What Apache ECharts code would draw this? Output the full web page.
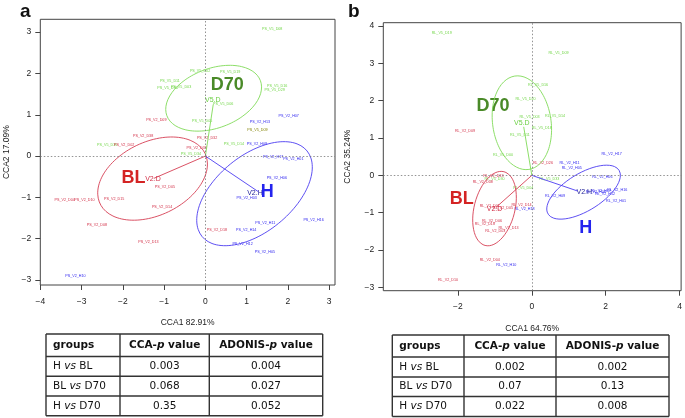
<!DOCTYPE html>
<html><head><meta charset="utf-8">
<script src="https://cdn.jsdelivr.net/npm/echarts@6/dist/echarts.min.js"></script>
<style>html,body{margin:0;padding:0;background:#fff}#c{width:685px;height:418px}</style>
</head><body><div id="c"></div>
<script>
// ---------- Panel a: sample scores ----------
const aNames = ['PS_V5_D08','PS_V5_D02','PS_V5_D19','PS_V5_D11','PS_V5_D30','PS_V5_D03','PS_V5_D16','PS_V5_D29','PS_V5_D06','PS_V5_D05','PS_V5_D14','PS_V5_D35','PS_V5_D34','PS_V5_D09',
 'PS_V2_D09','PS_V2_D38','PS_V2_D32','PS_V2_D02','PS_V2_D33','PS_V2_D05','PS_V2_D04','PS_V2_D10','PS_V2_D15','PS_V2_D14','PS_V2_D08','PS_V2_D18','PS_V2_D13',
 'PS_V2_H07','PS_V2_H13','PS_V2_H09','PS_V2_H17','PS_V2_H01','PS_V2_H06','PS_V2_H03','PS_V2_H16','PS_V2_H11','PS_V2_H14','PS_V2_H12','PS_V2_H05','PS_V2_H10'];
const aX = [1.62,-0.13,0.60,-0.86,-0.92,-0.59,1.74,1.68,0.43,-0.08,0.69,-2.38,-0.35,1.26,
 -1.19,-1.51,0.04,-1.97,-0.21,-0.98,-3.41,-2.93,-2.21,-1.05,-2.63,0.28,-1.38,
 2.02,1.32,1.25,1.64,2.13,1.73,1.00,2.62,1.45,0.99,0.90,1.44,-3.15];
const aY = [3.07,2.05,2.03,1.81,1.65,1.68,1.69,1.61,1.27,0.85,0.30,0.27,0.04,0.63,
 0.87,0.49,0.44,0.27,0.20,-0.75,-1.07,-1.07,-1.04,-1.24,-1.66,-1.78,-2.07,
 0.98,0.83,0.30,-0.02,-0.08,-0.53,-1.01,-1.54,-1.61,-1.79,-2.13,-2.31,-2.91];
const aGrp = [0,0,0,0,0,0,0,0,0,0,0,0,0,3, 1,1,1,1,1,1,1,1,1,1,1,1,1, 2,2,2,2,2,2,2,2,2,2,2,2,2];

// panel a: groups, centroids, ellipses
const aGroupLab = ['D70','BL','H'];
const aGroupX = [0.53,-1.74,1.50];
const aGroupY = [1.72,-0.53,-0.88];
const aCentLab = ['V5.D','V2.D','V2.H'];
const aCentX = [0.18,-1.27,1.20];
const aCentY = [1.36,-0.56,-0.89];
const aArrowX = [0.19,-1.25,1.28];
const aArrowY = [1.25,-0.54,-0.86];
const aEllCX = [0.20,-1.28,1.19];
const aEllCY = [1.40,-0.545,-0.91];
const aEllA = [1.21,1.41,1.64];
const aEllB = [0.72,0.89,0.925];
const aEllAng = [20.5,25.5,39.1];

// ---------- Panel b: sample scores ----------
const bNames = ['RL_V5_D19','RL_V5_D09','RL_V5_D16','RL_V5_D20','RL_V5_D03','RL_V5_D14','RL_V5_D18','RL_V5_D11','RL_V5_D00','RL_V5_D33','RL_V5_D30','RL_V5_D04',
 'RL_V2_D09','RL_V2_D26','RL_V2_D33','RL_V2_D08','RL_V2_D01','RL_V2_D05','RL_V2_D14','RL_V2_D06','RL_V2_D18','RL_V2_D13','RL_V2_D03','RL_V2_D04','RL_V2_D10',
 'RL_V2_H17','RL_V2_H11','RL_V2_H05','RL_V2_H06','RL_V2_H09','RL_V2_H03','RL_V2_H07','RL_V2_H16','RL_V2_H12','RL_V2_H01','RL_V2_H18','RL_V2_H10'];
const bX = [-2.44,0.72,0.17,-0.17,-0.06,0.63,0.27,-0.32,-0.78,0.47,-1.01,-0.23,
 -1.81,0.30,-1.04,-1.33,-1.14,-0.78,-0.28,-1.08,-1.27,-0.63,-0.99,-1.14,-2.27,
 2.16,1.02,1.08,1.91,0.63,1.73,1.87,2.31,1.98,2.28,-0.20,-0.69];
const bY = [3.81,3.29,2.43,2.04,1.57,1.58,1.26,1.08,0.54,-0.09,-0.11,-0.35,
 1.20,0.34,-0.02,-0.19,-0.83,-0.88,-0.80,-1.22,-1.31,-1.40,-1.49,-2.27,-2.80,
 0.56,0.32,0.20,-0.04,-0.55,-0.44,-0.42,-0.40,-0.51,-0.69,-0.89,-2.41];
const bGrp = [0,0,0,0,0,0,0,0,0,0,0,0, 1,1,1,1,1,1,1,1,1,1,1,1,1, 2,2,2,2,2,2,2,2,2,2,2,2];

const bGroupLab = ['D70','BL','H'];
const bGroupX = [-1.05,-1.90,1.46];
const bGroupY = [1.87,-0.64,-1.40];
const bCentLab = ['V5.D','V2.D','V2.H'];
const bCentX = [-0.27,-1.01,1.42];
const bCentY = [1.39,-0.91,-0.45];
const bArrowX = [-0.22,-0.96,1.24];
const bArrowY = [1.30,-0.85,-0.42];
const bEllCX = [-0.27,-1.01,1.40];
const bEllCY = [1.41,-0.89,-0.45];
const bEllA = [1.265,1.02,1.125];
const bEllB = [0.79,0.55,0.50];
const bEllAng = [98.7,75.5,31.2];

// ---------- axes ----------
const aXTicks = [-4,-3,-2,-1,0,1,2,3];
const aYTicks = [-3,-2,-1,0,1,2,3];
const bXTicks = [-2,0,2,4];
const bYTicks = [-3,-2,-1,0,1,2,3,4];
const aXTitle = 'CCA1 82.91%', aYTitle = 'CCA2 17.09%';
const bXTitle = 'CCA1 64.76%', bYTitle = 'CCA2 35.24%';

// ---------- tables ----------
const tHeader = ['groups','CCA-','p',' value','ADONIS-','p',' value'];
const tCompA = [['H','BL'],['BL','D70'],['H','D70']];
const tCcaA = ['0.003','0.068','0.35'];
const tAdoA = ['0.004','0.027','0.052'];
const tCcaB = ['0.002','0.07','0.022'];
const tAdoB = ['0.002','0.13','0.008'];

// ---------- styling ----------
const labelCol = ['#72D648','#D22E46','#2E24F0','#808000'];
const groupCol = ['#4A8A28','#D42424','#2424EE'];
const centCol = ['#6CD044','#D22E46','#1A1A96'];
const ellCol = ['#80DA58','#D63E54','#4C3CF0'];
const FONT = 'Liberation Sans, Arial, sans-serif';

function ellipse(cx, cy, a, b, deg) {
  const t = deg * Math.PI / 180, pts = [];
  for (let i = 0; i <= 120; i++) {
    const u = i / 120 * 2 * Math.PI;
    const ex = a * Math.cos(u), ey = b * Math.sin(u);
    pts.push([cx + ex * Math.cos(t) - ey * Math.sin(t), cy + ex * Math.sin(t) + ey * Math.cos(t)]);
  }
  return pts;
}
const fmt = v => v < 0 ? '\u2212' + Math.abs(v) : String(v);

function axes(idx, xr, yr, xt, yt, xTitle, yTitle, xGap, yGap, xMargin) {
  const common = {
    gridIndex: idx, type: 'value', splitLine: {show: false},
    axisLine: {show: false, onZero: false},
    axisTick: {show: true, length: 5, lineStyle: {color: '#444', width: 1}},
    nameTextStyle: {fontSize: 8.5, color: '#222', fontFamily: FONT},
    nameLocation: 'middle'
  };
  const x = Object.assign({}, common, {min: xr[0], max: xr[1], name: xTitle, nameGap: xGap,
    axisTick: Object.assign({}, common.axisTick, {customValues: xt}),
    axisLabel: {customValues: xt, formatter: fmt, fontSize: 8.5, color: '#222', fontFamily: FONT, margin: xMargin}});
  const y = Object.assign({}, common, {min: yr[0], max: yr[1], name: yTitle, nameGap: yGap,
    axisTick: Object.assign({}, common.axisTick, {customValues: yt}),
    axisLabel: {customValues: yt, formatter: fmt, fontSize: 8.5, color: '#222', fontFamily: FONT, margin: 9}});
  return [x, y];
}

const hidden = {color: 'rgba(0,0,0,0)', opacity: 1};

function panelSeries(idx, names, xs, ys, grp, gl, gx, gy, cl, cx, cy, ax, ay, ecx, ecy, ea, eb, eang) {
  const s = [];
  // dotted zero lines
  s.push({type: 'scatter', xAxisIndex: idx, yAxisIndex: idx, data: [], silent: true,
    markLine: {silent: true, symbol: ['none','none'], label: {show: false},
      lineStyle: {type: [1.5, 2], color: '#777', width: 0.8},
      data: [{xAxis: 0}, {yAxis: 0}]}});
  // ellipses
  for (let k = 0; k < 3; k++) {
    s.push({type: 'line', xAxisIndex: idx, yAxisIndex: idx, showSymbol: false, silent: true,
      data: ellipse(ecx[k], ecy[k], ea[k], eb[k], eang[k]),
      lineStyle: {color: ellCol[k], width: 0.9}});
  }
  // arrows from origin to centroid
  for (let k = 0; k < 3; k++) {
    s.push({type: 'line', xAxisIndex: idx, yAxisIndex: idx, showSymbol: false, silent: true,
      data: [[0, 0], [ax[k], ay[k]]], lineStyle: {color: ellCol[k], width: 0.9}});
  }
  // sample name labels
  s.push({type: 'scatter', xAxisIndex: idx, yAxisIndex: idx, symbolSize: 0.1, silent: true,
    itemStyle: hidden,
    data: names.map((n, i) => ({name: n, value: [xs[i], ys[i]],
      label: {color: labelCol[grp[i]]}})),
    label: {show: true, position: 'inside', formatter: '{b}', fontSize: 3.7, fontFamily: FONT}});
  // centroid labels
  s.push({type: 'scatter', xAxisIndex: idx, yAxisIndex: idx, symbolSize: 0.1, silent: true,
    itemStyle: hidden,
    data: cl.map((n, i) => ({name: n, value: [cx[i], cy[i]], label: {color: centCol[i]}})),
    label: {show: true, position: 'inside', formatter: '{b}', fontSize: 7, fontFamily: FONT}});
  // group labels
  s.push({type: 'scatter', xAxisIndex: idx, yAxisIndex: idx, symbolSize: 0.1, silent: true,
    itemStyle: hidden,
    data: gl.map((n, i) => ({name: n, value: [gx[i], gy[i]], label: {color: groupCol[i]}})),
    label: {show: true, position: 'inside', formatter: '{b}', fontSize: 18, fontWeight: 'bold', fontFamily: FONT}});
  return s;
}

function table(cols, rows, comps, cca, ado) {
  const els = [];
  const TF = 'DejaVu Sans, sans-serif';
  const lc = '#333';
  rows.forEach(r => els.push({type: 'line', shape: {x1: cols[0], y1: r, x2: cols[3], y2: r}, style: {stroke: lc, lineWidth: 1.4}, silent: true}));
  cols.forEach(c => els.push({type: 'line', shape: {x1: c, y1: rows[0], x2: c, y2: rows[4]}, style: {stroke: lc, lineWidth: 1.4}, silent: true}));
  const rich = {
    n: {fontSize: 10.5, fontFamily: TF, fill: '#111'},
    i: {fontSize: 10.5, fontFamily: TF, fontStyle: 'italic', fill: '#111'},
    hb: {fontSize: 10.5, fontFamily: TF, fontWeight: 'bold', fill: '#111'},
    hi: {fontSize: 10.5, fontFamily: TF, fontWeight: 'bold', fontStyle: 'italic', fill: '#111'}
  };
  const cy = k => (rows[k] + rows[k + 1]) / 2;
  const txt = (x, y, s, align) => els.push({type: 'text', x: x, y: y, silent: true,
    style: {text: s, rich: rich, align: align, verticalAlign: 'middle'}});
  txt(cols[0] + 7, cy(0), '{hb|' + tHeader[0] + '}', 'left');
  txt((cols[1] + cols[2]) / 2, cy(0), '{hb|' + tHeader[1] + '}{hi|' + tHeader[2] + '}{hb|' + tHeader[3] + '}', 'center');
  txt((cols[2] + cols[3]) / 2, cy(0), '{hb|' + tHeader[4] + '}{hi|' + tHeader[5] + '}{hb|' + tHeader[6] + '}', 'center');
  for (let r = 0; r < 3; r++) {
    txt(cols[0] + 7, cy(r + 1), '{n|' + comps[r][0] + ' }{i|vs}{n| ' + comps[r][1] + '}', 'left');
    txt((cols[1] + cols[2]) / 2, cy(r + 1), '{n|' + cca[r] + '}', 'center');
    txt((cols[2] + cols[3]) / 2, cy(r + 1), '{n|' + ado[r] + '}', 'center');
  }
  return els;
}

const [ax0, ay0] = axes(0, [-4, 3.14], [-3.12, 3.31], aXTicks, aYTicks, aXTitle, aYTitle, 33, 29, 12);
const [ax1, ay1] = axes(1, [-4.02, 4.04], [-3.09, 4.09], bXTicks, bYTicks, bXTitle, bYTitle, 33, 31, 11);

const chart = echarts.init(document.getElementById('c'), null, {renderer: 'canvas'});
chart.setOption({
  animation: false,
  backgroundColor: '#fff',
  title: [
    {text: 'a', left: 15, top: -3, textStyle: {fontSize: 19, fontWeight: 'bold', color: '#111', fontFamily: FONT}},
    {text: 'b', left: 343, top: -3, textStyle: {fontSize: 19, fontWeight: 'bold', color: '#111', fontFamily: FONT}}
  ],
  grid: [
    {left: 40.3, top: 19.3, width: 294.7, height: 265.7, show: true, borderColor: '#444', borderWidth: 1, backgroundColor: 'transparent'},
    {left: 383.3, top: 22.7, width: 299, height: 268, show: true, borderColor: '#444', borderWidth: 1, backgroundColor: 'transparent'}
  ],
  xAxis: [ax0, ax1],
  yAxis: [ay0, ay1],
  series: [].concat(
    panelSeries(0, aNames, aX, aY, aGrp, aGroupLab, aGroupX, aGroupY, aCentLab, aCentX, aCentY, aArrowX, aArrowY, aEllCX, aEllCY, aEllA, aEllB, aEllAng),
    panelSeries(1, bNames, bX, bY, bGrp, bGroupLab, bGroupX, bGroupY, bCentLab, bCentX, bCentY, bArrowX, bArrowY, bEllCX, bEllCY, bEllA, bEllB, bEllAng)
  ),
  graphic: [].concat(
    table([46, 120, 209.3, 322.7], [334, 356.5, 376.3, 396, 415.8], tCompA, tCcaA, tAdoA),
    table([392.3, 464, 556, 669], [335, 357, 377, 396.5, 416.5], tCompA, tCcaB, tAdoB)
  )
});
</script>
</body></html>
